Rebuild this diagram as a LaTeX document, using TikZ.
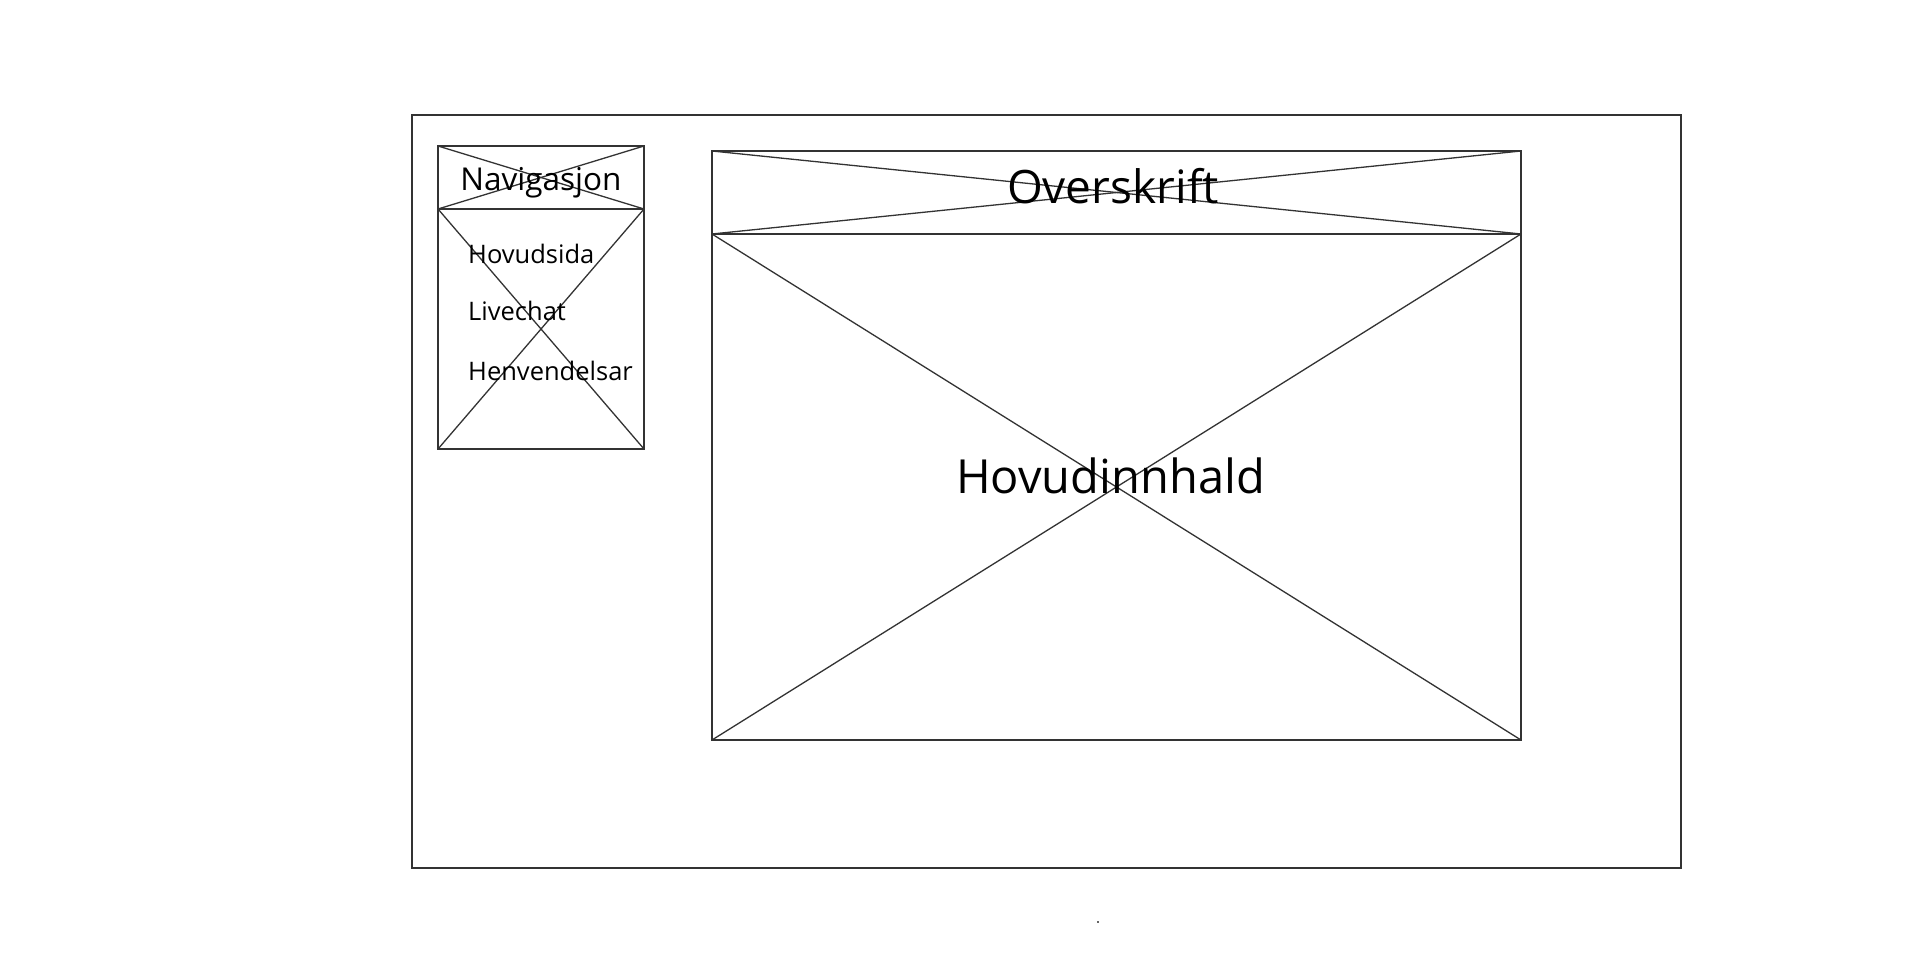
\documentclass[tikz,border=0pt]{standalone}
\usepackage{fontspec}
\setmainfont{Open Sans}
\begin{document}
\begin{tikzpicture}[x=1pt,y=-1pt,
  box/.style={draw=black!80, line width=1.5pt, inner sep=0pt, outer sep=0pt},
  cross/.style={draw=black!80, line width=1.3pt},
  lbl/.style={inner sep=0pt, anchor=base, text=black}]
\useasboundingbox (0,0) rectangle (1920,976);
\fill[white] (0,0) rectangle (1920,976);
% outer frame
\node[box, minimum width=1269pt, minimum height=753pt] (outer) at (1046.5,491.5) {};
% navigation
\node[box, minimum width=206pt, minimum height=63pt] (navtitle) at (541,177.5) {};
\node[box, minimum width=206pt, minimum height=240pt] (navbody) at (541,329) {};
\draw[cross] (navtitle.north west) -- (navtitle.south east);
\draw[cross] (navtitle.north east) -- (navtitle.south west);
\draw[cross] (navbody.north west) -- (navbody.south east);
\draw[cross] (navbody.north east) -- (navbody.south west);
% header and main
\node[box, minimum width=809pt, minimum height=83pt] (header) at (1116.5,192.5) {};
\node[box, minimum width=809pt, minimum height=506pt] (main) at (1116.5,487) {};
\draw[cross] (header.north west) -- (header.south east);
\draw[cross] (header.north east) -- (header.south west);
\draw[cross] (main.north west) -- (main.south east);
\draw[cross] (main.north east) -- (main.south west);
% labels
\node[lbl] (tnav) at (541,191) {\fontsize{31.5}{36}\selectfont Navigasjon};
\node[lbl, anchor=base west] (t1) at (468,264) {\fontsize{25.5}{30}\selectfont Hovudsida};
\node[lbl, anchor=base west] (t2) at (468,321) {\fontsize{25.5}{30}\selectfont Livechat};
\node[lbl, anchor=base west] (t3) at (468,380) {\fontsize{25.5}{30}\selectfont Henvendelsar};
\node[lbl] (thead) at (1113,204) {\fontsize{46}{54}\selectfont Overskrift};
\node[lbl] (tmain) at (1110.5,493) {\fontsize{47}{54}\selectfont Hovudinnhald};
% tiny dot
\fill[black!60] (1097,921) rectangle (1099,923);
\end{tikzpicture}
\end{document}
